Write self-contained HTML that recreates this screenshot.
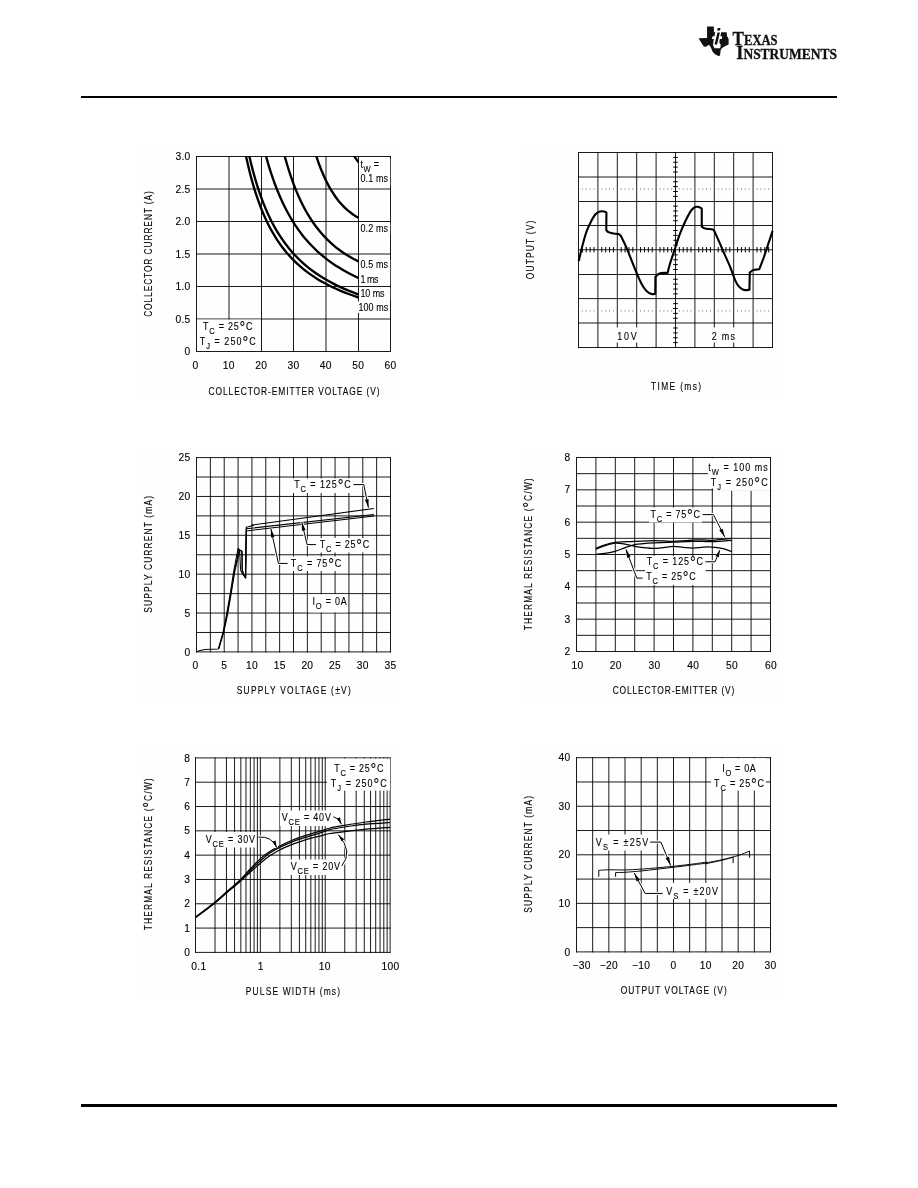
<!DOCTYPE html>
<html lang="en">
<head>
<meta charset="utf-8">
<title>Typical Performance Characteristics</title>
<style>
html,body{margin:0;padding:0;background:#fff}
body{width:918px;height:1188px;position:relative;overflow:hidden;font-family:"Liberation Sans",sans-serif;color:#000}
header,main,footer,figure{margin:0;padding:0}
.rule{position:absolute;left:81px;width:756px;background:#000}
.rule.top{top:96px;height:2px}
.rule.bottom{top:1104px;height:3px}
.chart{position:absolute;display:block;font-family:"Liberation Sans",sans-serif;font-size:11.2px;fill:#000}
.chart text{stroke:#000;stroke-width:.12px}
.chart .grid{fill:none;stroke:#000;stroke-width:.9}
.logo{position:absolute;left:694px;top:20px}
</style>
</head>
<body>
<header>
<svg class="logo" role="img" aria-label="Texas Instruments" width="150" height="46" viewBox="694 20 150 46">
<g transform="translate(694 22) scale(0.04357)">
<path d="M300 105H455L458 235H750L757 320L795 390V515L700 560L640 600L612 640L598 770L560 778L490 745L430 690L390 590L345 520L260 572L215 550L105 372L300 370Z" fill="#111"/>
<path d="M545 140H610L595 195H530Z" fill="#111"/>
<path d="M490 232H625L605 325H648L638 390H592L580 470L615 520L600 600H470L435 530L455 390H412L425 325H470Z" fill="#fff"/>
<path d="M540 240H595L530 515H470Z" fill="#111"/>
</g>
<g font-family="'Liberation Serif',serif" font-weight="bold" fill="#111" stroke="#111" stroke-width="0.3">
<text x="732.6" y="44.9" font-size="18.5" textLength="45" lengthAdjust="spacingAndGlyphs">T<tspan font-size="13.6">EXAS</tspan></text>
<text x="736.3" y="58.8" font-size="18.5" textLength="100.6" lengthAdjust="spacingAndGlyphs">I<tspan font-size="13.6">NSTRUMENTS</tspan></text>
</g>
</svg>
<div class="rule top"></div>
</header>
<main>
<figure>
<svg class="chart c1" role="img" aria-label="Safe operating area: collector current versus collector-emitter voltage" width="258" height="249" viewBox="142 151 258 249" style="left:142px;top:151px">
<rect x="142" y="151.4" width="258" height="248.6" fill="#fefefe"/>
<path class="grid" d="M196.5 156V352M229 156V352M261.5 156V352M293.5 156V352M326 156V352M358.5 156V352M390.5 156V352M196 156.5H391M196 189H391M196 221.5H391M196 254H391M196 286.5H391M196 319H391M196 351.5H391"/>
<clipPath id="clip1"><rect x="196.5" y="156" width="163" height="196"/></clipPath>
<g class="curves" clip-path="url(#clip1)">
<path d="M239.05 116.87C239.47 119.54 240.72 127.73 241.59 132.86C242.47 137.99 243.37 142.9 244.29 147.64C245.22 152.38 246.17 156.92 247.15 161.3C248.14 165.68 249.14 169.88 250.19 173.93C251.23 177.99 252.3 181.87 253.4 185.63C254.5 189.38 255.63 192.98 256.8 196.46C257.97 199.93 259.17 203.27 260.41 206.49C261.65 209.71 262.93 212.8 264.24 215.79C265.55 218.78 266.9 221.64 268.29 224.41C269.68 227.19 271.11 229.85 272.59 232.42C274.07 234.99 275.58 237.46 277.14 239.85C278.71 242.24 280.31 244.53 281.97 246.75C283.63 248.97 285.33 251.1 287.09 253.17C288.84 255.23 290.65 257.21 292.51 259.13C294.37 261.05 296.28 262.9 298.25 264.68C300.23 266.47 302.25 268.19 304.34 269.85C306.44 271.51 308.58 273.11 310.8 274.66C313.02 276.21 315.29 277.7 317.64 279.15C319.99 280.59 322.4 281.98 324.89 283.33C327.38 284.67 329.94 285.97 332.58 287.23C335.21 288.48 337.92 289.69 340.72 290.86C343.52 292.04 346.39 293.17 349.35 294.26C352.31 295.36 356.98 296.91 358.5 297.44" fill="none" stroke="#000" stroke-width="2.35" stroke-linejoin="round"/>
<path d="M241.92 117.52C242.35 120.03 243.61 127.72 244.5 132.56C245.38 137.39 246.29 142.04 247.23 146.54C248.16 151.03 249.12 155.35 250.11 159.53C251.1 163.71 252.11 167.73 253.16 171.62C254.2 175.51 255.28 179.25 256.38 182.87C257.48 186.49 258.62 189.98 259.78 193.35C260.95 196.72 262.15 199.96 263.38 203.1C264.61 206.24 265.88 209.26 267.18 212.19C268.49 215.11 269.82 217.93 271.2 220.66C272.58 223.39 273.99 226.01 275.45 228.56C276.9 231.1 278.4 233.55 279.94 235.93C281.48 238.3 283.05 240.59 284.68 242.8C286.31 245.02 287.97 247.15 289.69 249.22C291.41 251.29 293.18 253.29 294.99 255.22C296.81 257.15 298.67 259.01 300.59 260.82C302.51 262.63 304.48 264.37 306.51 266.06C308.54 267.75 310.62 269.38 312.76 270.96C314.91 272.54 317.11 274.06 319.37 275.54C321.64 277.02 323.96 278.44 326.36 279.82C328.75 281.21 331.21 282.54 333.74 283.84C336.27 285.13 338.87 286.39 341.54 287.6C344.21 288.81 346.96 289.98 349.79 291.12C352.61 292.26 357.05 293.87 358.5 294.42" fill="none" stroke="#000" stroke-width="2.35" stroke-linejoin="round"/>
<path d="M256.98 116.31C257.42 118.51 258.72 125.25 259.63 129.5C260.53 133.75 261.45 137.84 262.39 141.81C263.33 145.78 264.29 149.6 265.27 153.31C266.26 157.02 267.26 160.59 268.28 164.06C269.31 167.53 270.36 170.87 271.43 174.11C272.5 177.35 273.59 180.48 274.7 183.51C275.82 186.55 276.96 189.48 278.13 192.32C279.29 195.16 280.48 197.9 281.7 200.56C282.92 203.22 284.16 205.79 285.43 208.28C286.7 210.78 288 213.18 289.32 215.52C290.65 217.86 292 220.12 293.39 222.31C294.77 224.5 296.18 226.62 297.63 228.68C299.07 230.74 300.54 232.73 302.05 234.66C303.56 236.6 305.1 238.46 306.67 240.28C308.25 242.1 309.85 243.85 311.49 245.56C313.14 247.27 314.81 248.92 316.53 250.52C318.24 252.13 319.99 253.68 321.78 255.19C323.57 256.7 325.4 258.16 327.26 259.58C329.13 261 331.04 262.38 332.99 263.72C334.94 265.06 336.93 266.35 338.96 267.61C341 268.87 343.07 270.1 345.2 271.28C347.32 272.47 349.49 273.62 351.71 274.74C353.92 275.86 357.37 277.46 358.5 278.01" fill="none" stroke="#000" stroke-width="2.35" stroke-linejoin="round"/>
<path d="M272.47 97.15C272.9 99.64 274.15 107.32 275.01 112.11C275.88 116.9 276.75 121.47 277.64 125.88C278.53 130.28 279.44 134.49 280.36 138.55C281.28 142.61 282.21 146.49 283.17 150.23C284.12 153.98 285.08 157.55 286.07 161.01C287.05 164.46 288.05 167.76 289.06 170.95C290.08 174.14 291.11 177.19 292.16 180.13C293.21 183.08 294.28 185.9 295.36 188.62C296.45 191.34 297.55 193.95 298.67 196.47C299.79 198.99 300.93 201.4 302.09 203.73C303.25 206.06 304.43 208.3 305.63 210.46C306.83 212.62 308.04 214.69 309.28 216.69C310.52 218.69 311.78 220.61 313.06 222.46C314.33 224.32 315.63 226.1 316.96 227.82C318.28 229.54 319.62 231.19 320.99 232.78C322.35 234.37 323.74 235.91 325.15 237.38C326.57 238.86 328 240.28 329.46 241.66C330.92 243.03 332.4 244.35 333.91 245.62C335.42 246.89 336.95 248.12 338.51 249.3C340.07 250.48 341.65 251.61 343.26 252.71C344.88 253.8 346.51 254.85 348.18 255.87C349.84 256.89 351.53 257.86 353.25 258.8C354.97 259.74 357.63 261.06 358.5 261.52" fill="none" stroke="#000" stroke-width="2.35" stroke-linejoin="round"/>
<path d="M300.01 83.28C300.35 85.34 301.36 91.7 302.05 95.67C302.74 99.64 303.43 103.45 304.13 107.11C304.82 110.78 305.53 114.29 306.24 117.68C306.95 121.07 307.67 124.32 308.4 127.45C309.13 130.58 309.86 133.58 310.6 136.47C311.34 139.37 312.09 142.14 312.84 144.81C313.6 147.49 314.36 150.05 315.13 152.52C315.9 154.99 316.68 157.36 317.46 159.65C318.25 161.93 319.04 164.12 319.84 166.23C320.64 168.34 321.45 170.36 322.27 172.31C323.09 174.26 323.91 176.12 324.74 177.92C325.57 179.71 326.41 181.43 327.26 183.09C328.11 184.75 328.97 186.33 329.83 187.86C330.7 189.38 331.57 190.84 332.46 192.24C333.34 193.64 334.23 194.98 335.13 196.27C336.03 197.55 336.94 198.78 337.86 199.96C338.77 201.14 339.7 202.26 340.64 203.33C341.57 204.41 342.52 205.43 343.47 206.4C344.42 207.38 345.39 208.31 346.36 209.19C347.33 210.08 348.32 210.91 349.31 211.71C350.3 212.51 351.3 213.26 352.31 213.97C353.32 214.68 354.34 215.35 355.38 215.99C356.41 216.62 357.98 217.47 358.5 217.76" fill="none" stroke="#000" stroke-width="2.35" stroke-linejoin="round"/>
<path d="M332.72 117.85C332.89 118.21 333.41 119.28 333.75 119.99C334.1 120.7 334.44 121.4 334.79 122.11C335.14 122.81 335.49 123.51 335.84 124.2C336.19 124.9 336.54 125.59 336.89 126.28C337.24 126.97 337.6 127.66 337.95 128.34C338.31 129.02 338.66 129.7 339.02 130.38C339.38 131.06 339.74 131.73 340.1 132.4C340.46 133.07 340.82 133.74 341.19 134.41C341.55 135.07 341.91 135.73 342.28 136.39C342.65 137.05 343.01 137.71 343.38 138.36C343.75 139.01 344.12 139.66 344.49 140.31C344.87 140.95 345.24 141.6 345.61 142.24C345.99 142.88 346.36 143.52 346.74 144.15C347.12 144.78 347.5 145.42 347.88 146.05C348.26 146.67 348.64 147.3 349.02 147.92C349.41 148.55 349.79 149.17 350.18 149.79C350.56 150.4 350.95 151.02 351.34 151.63C351.73 152.24 352.12 152.85 352.51 153.46C352.9 154.06 353.3 154.67 353.69 155.27C354.08 155.87 354.48 156.47 354.88 157.06C355.28 157.66 355.68 158.25 356.08 158.84C356.48 159.43 356.88 160.02 357.28 160.6C357.69 161.18 358.3 162.05 358.5 162.35" fill="none" stroke="#000" stroke-width="2.35" stroke-linejoin="round"/>
</g>
<rect x="197" y="319.6" width="64" height="31.4" fill="#fff"/>
<text transform="translate(190.6 355.1) scale(0.95 1)" letter-spacing="0.3" text-anchor="end" font-size="10.8">0</text>
<text transform="translate(190.6 322.6) scale(0.95 1)" letter-spacing="0.3" text-anchor="end" font-size="10.8">0.5</text>
<text transform="translate(190.6 290.1) scale(0.95 1)" letter-spacing="0.3" text-anchor="end" font-size="10.8">1.0</text>
<text transform="translate(190.6 257.6) scale(0.95 1)" letter-spacing="0.3" text-anchor="end" font-size="10.8">1.5</text>
<text transform="translate(190.6 225.1) scale(0.95 1)" letter-spacing="0.3" text-anchor="end" font-size="10.8">2.0</text>
<text transform="translate(190.6 192.6) scale(0.95 1)" letter-spacing="0.3" text-anchor="end" font-size="10.8">2.5</text>
<text transform="translate(190.6 160.1) scale(0.95 1)" letter-spacing="0.3" text-anchor="end" font-size="10.8">3.0</text>
<text transform="translate(195.5 369) scale(0.95 1)" letter-spacing="0.3" text-anchor="middle" font-size="10.8">0</text>
<text transform="translate(228.83 369) scale(0.95 1)" letter-spacing="0.3" text-anchor="middle" font-size="10.8">10</text>
<text transform="translate(261.17 369) scale(0.95 1)" letter-spacing="0.3" text-anchor="middle" font-size="10.8">20</text>
<text transform="translate(293.5 369) scale(0.95 1)" letter-spacing="0.3" text-anchor="middle" font-size="10.8">30</text>
<text transform="translate(325.83 369) scale(0.95 1)" letter-spacing="0.3" text-anchor="middle" font-size="10.8">40</text>
<text transform="translate(358.17 369) scale(0.95 1)" letter-spacing="0.3" text-anchor="middle" font-size="10.8">50</text>
<text transform="translate(390.5 369) scale(0.95 1)" letter-spacing="0.3" text-anchor="middle" font-size="10.8">60</text>
<text transform="translate(294 394.6) scale(0.75 1)" x="-114" textLength="228" lengthAdjust="spacing">COLLECTOR-EMITTER VOLTAGE (V)</text>
<text transform="translate(152.4 254) rotate(-90) scale(0.75 1)" x="-83.8" textLength="167.6" lengthAdjust="spacing">COLLECTOR CURRENT (A)</text>
<text transform="translate(203 329.8) scale(0.8 1)" textLength="61.88" lengthAdjust="spacing">T<tspan dy="4" font-size="9.4">C</tspan><tspan dy="-4"> = 25</tspan><tspan dy="3.9" font-size="18">°</tspan><tspan dy="-3.9">C</tspan></text>
<text transform="translate(199.7 344.8) scale(0.8 1)" textLength="70" lengthAdjust="spacing">T<tspan dy="4" font-size="9.4">J</tspan><tspan dy="-4"> = 250</tspan><tspan dy="3.9" font-size="18">°</tspan><tspan dy="-3.9">C</tspan></text>
<rect x="359.2" y="159" width="31" height="26" fill="#fff"/>
<rect x="359.2" y="223" width="31" height="11" fill="#fff"/>
<rect x="359.2" y="260" width="31" height="25" fill="#fff"/>
<rect x="359.2" y="288" width="31" height="12" fill="#fff"/>
<rect x="357.6" y="301.4" width="32.4" height="11.6" fill="#fff"/>
<text transform="translate(360.5 168.4) scale(0.8 1)" textLength="23.12" lengthAdjust="spacing">t<tspan dy="4" font-size="9.4">W</tspan><tspan dy="-4"> =</tspan></text>
<text transform="translate(360.5 182.4) scale(0.8 1)" textLength="34.38" lengthAdjust="spacing">0.1 ms</text>
<text transform="translate(360.5 231.8) scale(0.8 1)" textLength="34.38" lengthAdjust="spacing">0.2 ms</text>
<text transform="translate(360.5 268.4) scale(0.8 1)" textLength="34.38" lengthAdjust="spacing">0.5 ms</text>
<text transform="translate(360.5 283.4) scale(0.8 1)" textLength="22.5" lengthAdjust="spacing">1 ms</text>
<text transform="translate(360.5 296.8) scale(0.8 1)" textLength="30" lengthAdjust="spacing">10 ms</text>
<text transform="translate(358.6 310.8) scale(0.8 1)" textLength="36.88" lengthAdjust="spacing">100 ms</text>
</svg>
</figure>
<figure>
<svg class="chart c2" role="img" aria-label="Output waveform, 10V and 2 ms per division" width="256" height="249" viewBox="524 151 256 249" style="left:524px;top:151px">
<rect x="524" y="151.4" width="256" height="248.6" fill="#fefefe"/>
<path class="grid" d="M578.5 152V348M597.9 152V348M617.3 152V348M636.7 152V348M656.1 152V348M675.5 152V348M694.9 152V348M714.3 152V348M733.7 152V348M753.1 152V348M772.5 152V348M578 152.5H773M578 177H773M578 201.5H773M578 225.5H773M578 249.75H773M578 274.5H773M578 298.6H773M578 323H773M578 347.5H773"/>
<path d="M581.88 189.06h1M585.76 189.06h1M589.64 189.06h1M593.52 189.06h1M601.28 189.06h1M605.16 189.06h1M609.04 189.06h1M612.92 189.06h1M620.68 189.06h1M624.56 189.06h1M628.44 189.06h1M632.32 189.06h1M640.08 189.06h1M643.96 189.06h1M647.84 189.06h1M651.72 189.06h1M659.48 189.06h1M663.36 189.06h1M667.24 189.06h1M671.12 189.06h1M678.88 189.06h1M682.76 189.06h1M686.64 189.06h1M690.52 189.06h1M698.28 189.06h1M702.16 189.06h1M706.04 189.06h1M709.92 189.06h1M717.68 189.06h1M721.56 189.06h1M725.44 189.06h1M729.32 189.06h1M737.08 189.06h1M740.96 189.06h1M744.84 189.06h1M748.72 189.06h1M756.48 189.06h1M760.36 189.06h1M764.24 189.06h1M768.12 189.06h1M581.88 310.94h1M585.76 310.94h1M589.64 310.94h1M593.52 310.94h1M601.28 310.94h1M605.16 310.94h1M609.04 310.94h1M612.92 310.94h1M620.68 310.94h1M624.56 310.94h1M628.44 310.94h1M632.32 310.94h1M640.08 310.94h1M643.96 310.94h1M647.84 310.94h1M651.72 310.94h1M659.48 310.94h1M663.36 310.94h1M667.24 310.94h1M671.12 310.94h1M678.88 310.94h1M682.76 310.94h1M686.64 310.94h1M690.52 310.94h1M698.28 310.94h1M702.16 310.94h1M706.04 310.94h1M709.92 310.94h1M717.68 310.94h1M721.56 310.94h1M725.44 310.94h1M729.32 310.94h1M737.08 310.94h1M740.96 310.94h1M744.84 310.94h1M748.72 310.94h1M756.48 310.94h1M760.36 310.94h1M764.24 310.94h1M768.12 310.94h1" stroke="#666" stroke-width="1" fill="none"/>
<path d="M582.38 247.05v5.4M586.26 247.05v5.4M590.14 247.05v5.4M594.02 247.05v5.4M601.78 247.05v5.4M605.66 247.05v5.4M609.54 247.05v5.4M613.42 247.05v5.4M621.18 247.05v5.4M625.06 247.05v5.4M628.94 247.05v5.4M632.82 247.05v5.4M640.58 247.05v5.4M644.46 247.05v5.4M648.34 247.05v5.4M652.22 247.05v5.4M659.98 247.05v5.4M663.86 247.05v5.4M667.74 247.05v5.4M671.62 247.05v5.4M679.38 247.05v5.4M683.26 247.05v5.4M687.14 247.05v5.4M691.02 247.05v5.4M698.78 247.05v5.4M702.66 247.05v5.4M706.54 247.05v5.4M710.42 247.05v5.4M718.18 247.05v5.4M722.06 247.05v5.4M725.94 247.05v5.4M729.82 247.05v5.4M737.58 247.05v5.4M741.46 247.05v5.4M745.34 247.05v5.4M749.22 247.05v5.4M756.98 247.05v5.4M760.86 247.05v5.4M764.74 247.05v5.4M768.62 247.05v5.4M673.2 157.38h4.6M673.2 162.25h4.6M673.2 167.12h4.6M673.2 172h4.6M673.2 181.75h4.6M673.2 186.62h4.6M673.2 191.5h4.6M673.2 196.38h4.6M673.2 206.12h4.6M673.2 211h4.6M673.2 215.88h4.6M673.2 220.75h4.6M673.2 230.5h4.6M673.2 235.38h4.6M673.2 240.25h4.6M673.2 245.12h4.6M673.2 254.88h4.6M673.2 259.75h4.6M673.2 264.62h4.6M673.2 269.5h4.6M673.2 279.25h4.6M673.2 284.12h4.6M673.2 289h4.6M673.2 293.88h4.6M673.2 303.62h4.6M673.2 308.5h4.6M673.2 313.38h4.6M673.2 318.25h4.6M673.2 328h4.6M673.2 332.88h4.6M673.2 337.75h4.6M673.2 342.62h4.6" stroke="#000" stroke-width="1" fill="none"/>
<path d="M578.77 260.93C579.41 258.29 581.27 250.1 582.6 245.1C583.93 240.1 585.24 235.1 586.77 230.93C588.29 226.77 590.38 222.79 591.77 220.1C593.16 217.41 593.99 216.1 595.1 214.77C596.21 213.43 597.32 212.68 598.43 212.1C599.54 211.52 600.66 211.32 601.77 211.27C602.88 211.21 604.32 211.52 605.1 211.77C605.88 212.02 606.21 212.6 606.43 212.77L606.27 230.1C606.63 230.43 607.24 231.54 608.43 232.1C609.63 232.66 611.77 233.1 613.43 233.43C615.1 233.77 617.18 233.68 618.43 234.1C619.68 234.52 620.52 235.63 620.93 235.93L620.93 235.93C621.91 238.02 624.13 242.18 626.77 248.43C629.41 254.68 634.27 267.46 636.77 273.43C639.27 279.41 640.24 281.43 641.77 284.27C643.29 287.1 644.68 288.96 645.93 290.43C647.18 291.91 648.16 292.49 649.27 293.1C650.38 293.71 651.6 293.99 652.6 294.1C653.6 294.21 654.82 293.82 655.27 293.77L655.43 276.77C655.79 276.43 656.68 275.38 657.6 274.77C658.52 274.16 659.35 273.41 660.93 273.1C662.52 272.79 666.07 272.96 667.1 272.93L667.6 272.93C668.02 271.35 668.77 267.79 670.1 263.43C671.43 259.07 673.93 251.77 675.6 246.77C677.27 241.77 678.52 237.6 680.1 233.43C681.68 229.27 683.43 225.32 685.1 221.77C686.77 218.21 688.71 214.38 690.1 212.1C691.49 209.82 692.32 208.99 693.43 208.1C694.54 207.21 695.66 206.88 696.77 206.77C697.88 206.66 699.27 207.1 700.1 207.43C700.93 207.77 701.49 208.54 701.77 208.77L701.77 226.77C702.32 227.04 703.29 227.99 705.1 228.43C706.91 228.88 711.07 229.02 712.6 229.43C714.13 229.85 713.99 230.68 714.27 230.93L714.27 230.93C714.96 232.46 716.91 236.63 718.43 240.1C719.96 243.57 721.49 247.32 723.43 251.77C725.38 256.21 728.16 262.04 730.1 266.77C732.04 271.49 733.71 276.91 735.1 280.1C736.49 283.29 737.32 284.46 738.43 285.93C739.54 287.41 740.66 288.24 741.77 288.93C742.88 289.63 743.82 289.96 745.1 290.1C746.38 290.24 748.71 289.82 749.43 289.77L749.77 272.6C750.24 272.24 751.57 270.93 752.6 270.43C753.63 269.93 754.82 269.82 755.93 269.6C757.04 269.38 758.71 269.18 759.27 269.1L759.27 269.1C759.96 267.32 761.91 262.71 763.43 258.43C764.96 254.16 766.91 248.02 768.43 243.43C769.96 238.85 771.91 233.02 772.6 230.93" fill="none" stroke="#000" stroke-width="2.1" stroke-linejoin="round"/>
<rect x="616" y="327.5" width="22" height="15" fill="#fff"/>
<rect x="710.5" y="327.5" width="26" height="15" fill="#fff"/>
<text transform="translate(617.3 340) scale(0.8 1)" textLength="24.25" lengthAdjust="spacing">10V</text>
<text transform="translate(711.7 340) scale(0.8 1)" textLength="29.12" lengthAdjust="spacing">2 ms</text>
<text transform="translate(676 390) scale(0.75 1)" x="-33.33" textLength="66.67" lengthAdjust="spacing">TIME (ms)</text>
<text transform="translate(534.3 250) rotate(-90) scale(0.75 1)" x="-39.07" textLength="78.13" lengthAdjust="spacing">OUTPUT (V)</text>
</svg>
</figure>
<figure>
<svg class="chart c3" role="img" aria-label="Supply current versus supply voltage" width="258" height="249" viewBox="142 451 258 249" style="left:142px;top:451px">
<rect x="142" y="451.4" width="258" height="248.6" fill="#fefefe"/>
<path class="grid" d="M196.5 457.1V652.4M210.36 457.1V652.4M224.21 457.1V652.4M238.07 457.1V652.4M251.93 457.1V652.4M265.79 457.1V652.4M279.64 457.1V652.4M293.5 457.1V652.4M307.36 457.1V652.4M321.21 457.1V652.4M335.07 457.1V652.4M348.93 457.1V652.4M362.79 457.1V652.4M376.64 457.1V652.4M390.5 457.1V652.4M196 457.6H391M196 477.03H391M196 496.46H391M196 515.89H391M196 535.32H391M196 554.75H391M196 574.18H391M196 593.61H391M196 613.04H391M196 632.47H391M196 651.9H391"/>
<g class="curves">
<path d="M196.43 651.77L200.1 650.6L205.1 649.6L218.43 648.93L223.1 632.1L226.43 615.1L230.27 593.27L233.77 570.77L238.1 548.43L239.6 550.1L240.6 570.1L242.6 574.27L245.43 577.6L245.77 550.1L246.27 527.27L253.43 525.43L251.77 525.1L373.93 508.43" fill="none" stroke="#000" stroke-width="1.05" stroke-linejoin="round"/>
<path d="M218.43 648.93L223.43 632.1L226.93 615.1L230.77 593.27L234.43 570.77L239.1 549.6L241.77 550.93L242.1 570.1L243.43 574.27L245.6 577.93L245.93 550.1L246.27 528.77L373.93 514.43" fill="none" stroke="#000" stroke-width="1.05" stroke-linejoin="round"/>
<path d="M218.77 648.93L223.77 632.1L227.43 615.1L231.27 593.27L234.93 570.77L239.77 550.1L242.1 551.43L242.43 570.1L243.77 574.77L245.77 577.93L246.1 550.1L246.43 530.93L374.27 515.93" fill="none" stroke="#000" stroke-width="1.05" stroke-linejoin="round"/>
</g>
<rect x="293" y="478.5" width="59" height="14.5" fill="#fff"/>
<text transform="translate(294.2 488.4) scale(0.8 1)" textLength="70.75" lengthAdjust="spacing">T<tspan dy="4" font-size="9.4">C</tspan><tspan dy="-4"> = 125</tspan><tspan dy="3.9" font-size="18">°</tspan><tspan dy="-3.9">C</tspan></text>
<path d="M353.43 484.6L363.77 484.6L368.43 507.6" fill="none" stroke="#fff" stroke-width="3" stroke-linejoin="miter"/>
<path d="M353.43 484.6L363.77 484.6L368.43 507.6" fill="none" stroke="#000" stroke-width="1" stroke-linejoin="miter"/>
<path d="M368.43 507.6L364.88 499.65L368.61 498.89Z" fill="#000"/>
<rect x="318" y="538" width="52.5" height="14.5" fill="#fff"/>
<text transform="translate(319.7 548.4) scale(0.8 1)" textLength="61.88" lengthAdjust="spacing">T<tspan dy="4" font-size="9.4">C</tspan><tspan dy="-4"> = 25</tspan><tspan dy="3.9" font-size="18">°</tspan><tspan dy="-3.9">C</tspan></text>
<path d="M315.93 544.6L307.1 544.6L301.77 522.1" fill="none" stroke="#fff" stroke-width="3" stroke-linejoin="miter"/>
<path d="M315.93 544.6L307.1 544.6L301.77 522.1" fill="none" stroke="#000" stroke-width="1" stroke-linejoin="miter"/>
<path d="M301.77 522.1L305.58 529.93L301.88 530.81Z" fill="#000"/>
<rect x="289.5" y="556.5" width="53" height="14.5" fill="#fff"/>
<text transform="translate(290.8 566.8) scale(0.8 1)" textLength="63.12" lengthAdjust="spacing">T<tspan dy="4" font-size="9.4">C</tspan><tspan dy="-4"> = 75</tspan><tspan dy="3.9" font-size="18">°</tspan><tspan dy="-3.9">C</tspan></text>
<path d="M287.6 563.43L278.43 563.43L270.93 528.77" fill="none" stroke="#fff" stroke-width="3" stroke-linejoin="miter"/>
<path d="M287.6 563.43L278.43 563.43L270.93 528.77" fill="none" stroke="#000" stroke-width="1" stroke-linejoin="miter"/>
<path d="M270.93 528.77L274.59 536.67L270.87 537.48Z" fill="#000"/>
<rect x="307.9" y="594.2" width="40.1" height="18.2" fill="#fff"/>
<text transform="translate(312.5 605) scale(0.8 1)" textLength="42.75" lengthAdjust="spacing">I<tspan dy="4" font-size="9.4">O</tspan><tspan dy="-4"> = 0A</tspan></text>
<text transform="translate(190.6 655.5) scale(0.95 1)" letter-spacing="0.3" text-anchor="end" font-size="10.8">0</text>
<text transform="translate(190.6 616.64) scale(0.95 1)" letter-spacing="0.3" text-anchor="end" font-size="10.8">5</text>
<text transform="translate(190.6 577.78) scale(0.95 1)" letter-spacing="0.3" text-anchor="end" font-size="10.8">10</text>
<text transform="translate(190.6 538.92) scale(0.95 1)" letter-spacing="0.3" text-anchor="end" font-size="10.8">15</text>
<text transform="translate(190.6 500.06) scale(0.95 1)" letter-spacing="0.3" text-anchor="end" font-size="10.8">20</text>
<text transform="translate(190.6 461.2) scale(0.95 1)" letter-spacing="0.3" text-anchor="end" font-size="10.8">25</text>
<text transform="translate(195.5 669) scale(0.95 1)" letter-spacing="0.3" text-anchor="middle" font-size="10.8">0</text>
<text transform="translate(224.21 669) scale(0.95 1)" letter-spacing="0.3" text-anchor="middle" font-size="10.8">5</text>
<text transform="translate(251.93 669) scale(0.95 1)" letter-spacing="0.3" text-anchor="middle" font-size="10.8">10</text>
<text transform="translate(279.64 669) scale(0.95 1)" letter-spacing="0.3" text-anchor="middle" font-size="10.8">15</text>
<text transform="translate(307.36 669) scale(0.95 1)" letter-spacing="0.3" text-anchor="middle" font-size="10.8">20</text>
<text transform="translate(335.07 669) scale(0.95 1)" letter-spacing="0.3" text-anchor="middle" font-size="10.8">25</text>
<text transform="translate(362.79 669) scale(0.95 1)" letter-spacing="0.3" text-anchor="middle" font-size="10.8">30</text>
<text transform="translate(390.5 669) scale(0.95 1)" letter-spacing="0.3" text-anchor="middle" font-size="10.8">35</text>
<text transform="translate(293.7 694.4) scale(0.75 1)" x="-76" textLength="152" lengthAdjust="spacing">SUPPLY VOLTAGE (±V)</text>
<text transform="translate(152.4 554.4) rotate(-90) scale(0.75 1)" x="-77.8" textLength="155.6" lengthAdjust="spacing">SUPPLY CURRENT (mA)</text>
</svg>
</figure>
<figure>
<svg class="chart c4" role="img" aria-label="Thermal resistance versus collector-emitter voltage" width="258" height="249" viewBox="522 451 258 249" style="left:522px;top:451px">
<rect x="522" y="451.4" width="258" height="248.6" fill="#fefefe"/>
<path class="grid" d="M576.5 457V652M595.9 457V652M615.3 457V652M634.7 457V652M654.1 457V652M673.5 457V652M692.9 457V652M712.3 457V652M731.7 457V652M751.1 457V652M770.5 457V652M576 457.5H771M576 473.67H771M576 489.83H771M576 506H771M576 522.17H771M576 538.33H771M576 554.5H771M576 570.67H771M576 586.83H771M576 603H771M576 619.17H771M576 635.33H771M576 651.5H771"/>
<g class="curves">
<path d="M595.93 548.43C597.46 547.82 601.91 545.77 605.1 544.77C608.29 543.77 611.77 542.93 615.1 542.43C618.43 541.93 621.82 541.96 625.1 541.77C628.38 541.57 629.91 541.46 634.77 541.27C639.63 541.07 649.49 540.66 654.27 540.6C659.04 540.54 660.21 540.82 663.43 540.93C666.66 541.04 669.99 541.32 673.6 541.27C677.21 541.21 681.85 540.79 685.1 540.6C688.35 540.41 690.32 540.24 693.1 540.1C695.88 539.96 698.54 539.74 701.77 539.77C704.99 539.79 709.1 540.32 712.43 540.27C715.77 540.21 718.54 539.77 721.77 539.43C724.99 539.1 730.1 538.46 731.77 538.27" fill="none" stroke="#000" stroke-width="1.25" stroke-linejoin="round"/>
<path d="M595.93 549.27C597.46 548.66 601.91 546.63 605.1 545.6C608.29 544.57 611.77 543.35 615.1 543.1C618.43 542.85 621.82 543.57 625.1 544.1C628.38 544.63 631.71 545.68 634.77 546.27C637.82 546.85 640.18 547.24 643.43 547.6C646.68 547.96 650.93 548.43 654.27 548.43C657.6 548.43 660.21 547.93 663.43 547.6C666.66 547.27 670.27 546.46 673.6 546.43C676.93 546.41 680.18 547.16 683.43 547.43C686.68 547.71 690.04 548.13 693.1 548.1C696.16 548.07 699.21 547.49 701.77 547.27C704.32 547.04 706.21 546.77 708.43 546.77C710.66 546.77 712.88 546.99 715.1 547.27C717.32 547.54 718.99 547.74 721.77 548.43C724.54 549.13 730.1 550.93 731.77 551.43" fill="none" stroke="#000" stroke-width="1.25" stroke-linejoin="round"/>
<path d="M595.93 554.27C597.46 554.13 601.91 553.91 605.1 553.43C608.29 552.96 611.77 552.41 615.1 551.43C618.43 550.46 621.82 548.74 625.1 547.6C628.38 546.46 631.71 545.27 634.77 544.6C637.82 543.93 640.18 543.88 643.43 543.6C646.68 543.32 649.24 543.18 654.27 542.93C659.29 542.68 667.13 542.38 673.6 542.1C680.07 541.82 686.63 541.35 693.1 541.27C699.57 541.18 705.99 541.77 712.43 541.6C718.88 541.43 728.54 540.49 731.77 540.27" fill="none" stroke="#000" stroke-width="1.25" stroke-linejoin="round"/>
</g>
<rect x="708" y="458.2" width="62" height="30.3" fill="#fff"/>
<rect x="713.1" y="488" width="56.9" height="2.8" fill="#fff"/>
<text transform="translate(708.3 470.8) scale(0.8 1)" textLength="74.25" lengthAdjust="spacing">t<tspan dy="4" font-size="9.4">W</tspan><tspan dy="-4"> = 100 ms</tspan></text>
<text transform="translate(710.7 486) scale(0.8 1)" textLength="71.25" lengthAdjust="spacing">T<tspan dy="4" font-size="9.4">J</tspan><tspan dy="-4"> = 250</tspan><tspan dy="3.9" font-size="18">°</tspan><tspan dy="-3.9">C</tspan></text>
<rect x="649" y="507.5" width="53" height="15" fill="#fff"/>
<text transform="translate(650.5 518.4) scale(0.8 1)" textLength="61.88" lengthAdjust="spacing">T<tspan dy="4" font-size="9.4">C</tspan><tspan dy="-4"> = 75</tspan><tspan dy="3.9" font-size="18">°</tspan><tspan dy="-3.9">C</tspan></text>
<path d="M702.6 514.6L713.43 514.6L724.77 537.1" fill="none" stroke="#fff" stroke-width="3" stroke-linejoin="miter"/>
<path d="M702.6 514.6L713.43 514.6L724.77 537.1" fill="none" stroke="#000" stroke-width="1" stroke-linejoin="miter"/>
<path d="M724.77 537.1L719.25 530.36L722.64 528.65Z" fill="#000"/>
<rect x="645" y="556" width="60.5" height="29" fill="#fff"/>
<text transform="translate(646.7 565.4) scale(0.8 1)" textLength="70.37" lengthAdjust="spacing">T<tspan dy="4" font-size="9.4">C</tspan><tspan dy="-4"> = 125</tspan><tspan dy="3.9" font-size="18">°</tspan><tspan dy="-3.9">C</tspan></text>
<path d="M705.43 561.77L715.1 561.77L719.77 550.1" fill="none" stroke="#fff" stroke-width="3" stroke-linejoin="miter"/>
<path d="M705.43 561.77L715.1 561.77L719.77 550.1" fill="none" stroke="#000" stroke-width="1" stroke-linejoin="miter"/>
<path d="M719.77 550.1L718.93 557.3L715.4 555.89Z" fill="#000"/>
<text transform="translate(646.3 580.4) scale(0.8 1)" textLength="61.88" lengthAdjust="spacing">T<tspan dy="4" font-size="9.4">C</tspan><tspan dy="-4"> = 25</tspan><tspan dy="3.9" font-size="18">°</tspan><tspan dy="-3.9">C</tspan></text>
<path d="M642.6 578.1L636.77 578.1L625.93 549.27" fill="none" stroke="#fff" stroke-width="3" stroke-linejoin="miter"/>
<path d="M642.6 578.1L636.77 578.1L625.93 549.27" fill="none" stroke="#000" stroke-width="1" stroke-linejoin="miter"/>
<path d="M625.93 549.27L630.7 556.56L627.14 557.89Z" fill="#000"/>
<text transform="translate(570.6 655.1) scale(0.95 1)" letter-spacing="0.3" text-anchor="end" font-size="10.8">2</text>
<text transform="translate(570.6 622.77) scale(0.95 1)" letter-spacing="0.3" text-anchor="end" font-size="10.8">3</text>
<text transform="translate(570.6 590.43) scale(0.95 1)" letter-spacing="0.3" text-anchor="end" font-size="10.8">4</text>
<text transform="translate(570.6 558.1) scale(0.95 1)" letter-spacing="0.3" text-anchor="end" font-size="10.8">5</text>
<text transform="translate(570.6 525.77) scale(0.95 1)" letter-spacing="0.3" text-anchor="end" font-size="10.8">6</text>
<text transform="translate(570.6 493.43) scale(0.95 1)" letter-spacing="0.3" text-anchor="end" font-size="10.8">7</text>
<text transform="translate(570.6 461.1) scale(0.95 1)" letter-spacing="0.3" text-anchor="end" font-size="10.8">8</text>
<text transform="translate(577.6 669) scale(0.95 1)" letter-spacing="0.3" text-anchor="middle" font-size="10.8">10</text>
<text transform="translate(615.7 669) scale(0.95 1)" letter-spacing="0.3" text-anchor="middle" font-size="10.8">20</text>
<text transform="translate(654.5 669) scale(0.95 1)" letter-spacing="0.3" text-anchor="middle" font-size="10.8">30</text>
<text transform="translate(693.3 669) scale(0.95 1)" letter-spacing="0.3" text-anchor="middle" font-size="10.8">40</text>
<text transform="translate(732.1 669) scale(0.95 1)" letter-spacing="0.3" text-anchor="middle" font-size="10.8">50</text>
<text transform="translate(770.9 669) scale(0.95 1)" letter-spacing="0.3" text-anchor="middle" font-size="10.8">60</text>
<text transform="translate(673.5 694.4) scale(0.75 1)" x="-81.13" textLength="162.27" lengthAdjust="spacing">COLLECTOR-EMITTER (V)</text>
<text transform="translate(532.4 554.3) rotate(-90) scale(0.75 1)" x="-101.13" textLength="202.27" lengthAdjust="spacing">THERMAL RESISTANCE (<tspan dy="3.9" font-size="18">°</tspan><tspan dy="-3.9">C/W)</tspan></text>
</svg>
</figure>
<figure>
<svg class="chart c5" role="img" aria-label="Thermal resistance versus pulse width" width="258" height="249" viewBox="142 751 258 249" style="left:142px;top:751px">
<rect x="142" y="751.4" width="258" height="248.6" fill="#fefefe"/>
<path class="grid" d="M195.5 757.4V952.9M215.03 757.4V952.9M226.45 757.4V952.9M234.55 757.4V952.9M240.84 757.4V952.9M245.98 757.4V952.9M250.32 757.4V952.9M254.08 757.4V952.9M257.4 757.4V952.9M260.37 757.4V952.9M279.89 757.4V952.9M291.32 757.4V952.9M299.42 757.4V952.9M305.71 757.4V952.9M310.84 757.4V952.9M315.19 757.4V952.9M318.95 757.4V952.9M322.27 757.4V952.9M325.23 757.4V952.9M344.76 757.4V952.9M356.18 757.4V952.9M364.29 757.4V952.9M370.57 757.4V952.9M375.71 757.4V952.9M380.05 757.4V952.9M383.81 757.4V952.9M387.13 757.4V952.9M390.1 757.4V952.9M195 757.9H390.6M195 782.21H390.6M195 806.52H390.6M195 830.84H390.6M195 855.15H390.6M195 879.46H390.6M195 903.77H390.6M195 928.09H390.6M195 952.4H390.6"/>
<g class="curves">
<path d="M195.6 917C198.62 914.72 208.52 907.5 213.7 903.3C218.88 899.1 223.22 894.87 226.7 891.8C230.18 888.73 232.15 887.1 234.6 884.9C237.05 882.7 238.77 881.28 241.4 878.6C244.03 875.92 247.23 872.13 250.4 868.8C253.57 865.47 257.23 861.43 260.4 858.6C263.57 855.77 266.2 853.9 269.4 851.8C272.6 849.7 276 847.83 279.6 846C283.2 844.17 287.67 842.23 291 840.8C294.33 839.37 296.25 838.57 299.6 837.4C302.95 836.23 307.53 834.88 311.1 833.8C314.67 832.72 317.85 831.87 321 830.9C324.15 829.93 326.07 828.93 330 828C333.93 827.07 338.6 826.3 344.6 825.3C350.6 824.3 358.43 823.03 366 822C373.57 820.97 386 819.58 390 819.1" fill="none" stroke="#000" stroke-width="1.25" stroke-linejoin="round"/>
<path d="M195.6 917.3C198.62 915.03 208.52 907.87 213.7 903.7C218.88 899.53 223.22 895.33 226.7 892.3C230.18 889.27 232.15 887.65 234.6 885.5C237.05 883.35 238.77 881.95 241.4 879.4C244.03 876.85 247.23 873.3 250.4 870.2C253.57 867.1 257.23 863.62 260.4 860.8C263.57 857.98 266.2 855.53 269.4 853.3C272.6 851.07 276 849.22 279.6 847.4C283.2 845.58 287.67 843.77 291 842.4C294.33 841.03 296.25 840.33 299.6 839.2C302.95 838.07 307.53 836.68 311.1 835.6C314.67 834.52 317.85 833.7 321 832.7C324.15 831.7 326.07 830.55 330 829.6C333.93 828.65 338.6 827.9 344.6 827C350.6 826.1 358.43 824.95 366 824.2C373.57 823.45 386 822.78 390 822.5" fill="none" stroke="#000" stroke-width="1.25" stroke-linejoin="round"/>
<path d="M195.6 917.6C198.62 915.35 208.52 908.23 213.7 904.1C218.88 899.97 223.22 895.78 226.7 892.8C230.18 889.82 232.15 888.27 234.6 886.2C237.05 884.13 238.77 882.77 241.4 880.4C244.03 878.03 247.23 874.85 250.4 872C253.57 869.15 257.23 865.95 260.4 863.3C263.57 860.65 266.2 858.32 269.4 856.1C272.6 853.88 276 851.87 279.6 850C283.2 848.13 287.67 846.27 291 844.9C294.33 843.53 296.25 842.92 299.6 841.8C302.95 840.68 307.53 839.2 311.1 838.2C314.67 837.2 317.85 836.58 321 835.8C324.15 835.02 326.07 834.2 330 833.5C333.93 832.8 338.6 832.32 344.6 831.6C350.6 830.88 358.43 829.92 366 829.2C373.57 828.48 386 827.62 390 827.3" fill="none" stroke="#000" stroke-width="1.25" stroke-linejoin="round"/>
</g>
<rect x="327" y="758.6" width="63" height="32" fill="#fff"/>
<text transform="translate(334.2 771.8) scale(0.8 1)" textLength="61.62" lengthAdjust="spacing">T<tspan dy="4" font-size="9.4">C</tspan><tspan dy="-4"> = 25</tspan><tspan dy="3.9" font-size="18">°</tspan><tspan dy="-3.9">C</tspan></text>
<text transform="translate(330.8 786.8) scale(0.8 1)" textLength="70" lengthAdjust="spacing">T<tspan dy="4" font-size="9.4">J</tspan><tspan dy="-4"> = 250</tspan><tspan dy="3.9" font-size="18">°</tspan><tspan dy="-3.9">C</tspan></text>
<rect x="280" y="810.5" width="52" height="15.5" fill="#fff"/>
<text transform="translate(281.7 821.4) scale(0.8 1)" textLength="61.5" lengthAdjust="spacing">V<tspan dy="4" font-size="9.4">CE</tspan><tspan dy="-4"> = 40V</tspan></text>
<path d="M333.43 816.77Q338.43 817.6 341.43 824.27" fill="none" stroke="#fff" stroke-width="3"/>
<path d="M333.43 816.77Q338.43 817.6 341.43 824.27" fill="none" stroke="#000" stroke-width="1"/>
<path d="M341.43 824.27L336.86 818.7L339.93 817.22Z" fill="#000"/>
<rect x="204" y="832" width="52" height="15.5" fill="#fff"/>
<text transform="translate(205.8 842.6) scale(0.8 1)" textLength="61.5" lengthAdjust="spacing">V<tspan dy="4" font-size="9.4">CE</tspan><tspan dy="-4"> = 30V</tspan></text>
<path d="M258.43 837.1Q271.77 835.93 276.77 847.6" fill="none" stroke="#fff" stroke-width="3"/>
<path d="M258.43 837.1Q271.77 835.93 276.77 847.6" fill="none" stroke="#000" stroke-width="1"/>
<path d="M276.77 847.6L272.45 841.84L275.57 840.5Z" fill="#000"/>
<rect x="289" y="859.5" width="52" height="15.5" fill="#fff"/>
<text transform="translate(290.8 870) scale(0.8 1)" textLength="61.5" lengthAdjust="spacing">V<tspan dy="4" font-size="9.4">CE</tspan><tspan dy="-4"> = 20V</tspan></text>
<path d="M341.77 865.93Q353.43 851.77 338.43 834.77" fill="none" stroke="#fff" stroke-width="3"/>
<path d="M341.77 865.93Q353.43 851.77 338.43 834.77" fill="none" stroke="#000" stroke-width="1"/>
<path d="M338.43 834.77L344.16 839.13L341.52 841.27Z" fill="#000"/>
<text transform="translate(190.2 956) scale(0.95 1)" letter-spacing="0.3" text-anchor="end" font-size="10.8">0</text>
<text transform="translate(190.2 931.69) scale(0.95 1)" letter-spacing="0.3" text-anchor="end" font-size="10.8">1</text>
<text transform="translate(190.2 907.38) scale(0.95 1)" letter-spacing="0.3" text-anchor="end" font-size="10.8">2</text>
<text transform="translate(190.2 883.06) scale(0.95 1)" letter-spacing="0.3" text-anchor="end" font-size="10.8">3</text>
<text transform="translate(190.2 858.75) scale(0.95 1)" letter-spacing="0.3" text-anchor="end" font-size="10.8">4</text>
<text transform="translate(190.2 834.44) scale(0.95 1)" letter-spacing="0.3" text-anchor="end" font-size="10.8">5</text>
<text transform="translate(190.2 810.12) scale(0.95 1)" letter-spacing="0.3" text-anchor="end" font-size="10.8">6</text>
<text transform="translate(190.2 785.81) scale(0.95 1)" letter-spacing="0.3" text-anchor="end" font-size="10.8">7</text>
<text transform="translate(190.2 761.5) scale(0.95 1)" letter-spacing="0.3" text-anchor="end" font-size="10.8">8</text>
<text transform="translate(198.9 970) scale(0.95 1)" letter-spacing="0.3" text-anchor="middle" font-size="10.8">0.1</text>
<text transform="translate(260.8 970) scale(0.95 1)" letter-spacing="0.3" text-anchor="middle" font-size="10.8">1</text>
<text transform="translate(324.8 970) scale(0.95 1)" letter-spacing="0.3" text-anchor="middle" font-size="10.8">10</text>
<text transform="translate(390.4 970) scale(0.95 1)" letter-spacing="0.3" text-anchor="middle" font-size="10.8">100</text>
<text transform="translate(292.9 995) scale(0.75 1)" x="-62.87" textLength="125.73" lengthAdjust="spacing">PULSE WIDTH (ms)</text>
<text transform="translate(151.7 854.3) rotate(-90) scale(0.75 1)" x="-101.13" textLength="202.27" lengthAdjust="spacing">THERMAL RESISTANCE (<tspan dy="3.9" font-size="18">°</tspan><tspan dy="-3.9">C/W)</tspan></text>
</svg>
</figure>
<figure>
<svg class="chart c6" role="img" aria-label="Supply current versus output voltage" width="258" height="249" viewBox="522 751 258 249" style="left:522px;top:751px">
<rect x="522" y="751.4" width="258" height="248.6" fill="#fefefe"/>
<path class="grid" d="M576.5 757.2V952.4M592.67 757.2V952.4M608.83 757.2V952.4M625 757.2V952.4M641.17 757.2V952.4M657.33 757.2V952.4M673.5 757.2V952.4M689.67 757.2V952.4M705.83 757.2V952.4M722 757.2V952.4M738.17 757.2V952.4M754.33 757.2V952.4M770.5 757.2V952.4M576 757.7H771M576 781.98H771M576 806.25H771M576 830.52H771M576 854.8H771M576 879.08H771M576 903.35H771M576 927.62H771M576 951.9H771"/>
<g class="curves">
<path d="M598.77 876.77L598.77 870.43" fill="none" stroke="#000" stroke-width="1" stroke-linejoin="miter"/>
<path d="M598.77 870.43C600.38 870.32 604.04 869.85 608.43 869.77C612.82 869.68 619.54 870.04 625.1 869.93C630.66 869.82 636.35 869.46 641.77 869.1C647.18 868.74 652.27 868.24 657.6 867.77C662.93 867.29 668.41 866.82 673.77 866.27C679.13 865.71 684.41 865.1 689.77 864.43C695.13 863.77 703.27 862.53 705.93 862.27C708.59 862 703.05 863.28 705.73 862.85C708.41 862.42 716.61 860.92 722.02 859.7C727.43 858.48 733.59 856.96 738.18 855.53C742.77 854.1 747.65 851.85 749.54 851.11" fill="none" stroke="#000" stroke-width="0.95" stroke-linejoin="round"/>
<path d="M749.54 851.11L749.54 857.68" fill="none" stroke="#000" stroke-width="1" stroke-linejoin="miter"/>
<path d="M615.6 876.77L615.6 872.6" fill="none" stroke="#000" stroke-width="1" stroke-linejoin="miter"/>
<path d="M615.6 872.6C617.18 872.54 620.74 872.54 625.1 872.27C629.46 871.99 636.35 871.46 641.77 870.93C647.18 870.41 652.27 869.71 657.6 869.1C662.93 868.49 668.41 867.91 673.77 867.27C679.13 866.63 684.41 865.93 689.77 865.27C695.13 864.6 703.27 863.52 705.93 863.27C708.59 863.01 703.05 864.25 705.73 863.74C708.41 863.23 717.45 861.3 722.02 860.2C726.59 859.11 731.28 857.68 733.13 857.17" fill="none" stroke="#000" stroke-width="0.95" stroke-linejoin="round"/>
<path d="M733.13 857.17L733.13 863.11" fill="none" stroke="#000" stroke-width="1" stroke-linejoin="miter"/>
</g>
<rect x="711" y="758.2" width="55" height="32.4" fill="#fff"/>
<text transform="translate(722.3 772.2) scale(0.8 1)" textLength="41.88" lengthAdjust="spacing">I<tspan dy="4" font-size="9.4">O</tspan><tspan dy="-4"> = 0A</tspan></text>
<text transform="translate(714.1 786.7) scale(0.8 1)" textLength="62.37" lengthAdjust="spacing">T<tspan dy="4" font-size="9.4">C</tspan><tspan dy="-4"> = 25</tspan><tspan dy="3.9" font-size="18">°</tspan><tspan dy="-3.9">C</tspan></text>
<rect x="594" y="834.5" width="56" height="16" fill="#fff"/>
<text transform="translate(595.8 845.9) scale(0.8 1)" textLength="65.62" lengthAdjust="spacing">V<tspan dy="4" font-size="9.4">S</tspan><tspan dy="-4"> = ±25V</tspan></text>
<path d="M650.1 842.1L660.93 842.1L670.6 865.43" fill="none" stroke="#fff" stroke-width="3" stroke-linejoin="miter"/>
<path d="M650.1 842.1L660.93 842.1L670.6 865.43" fill="none" stroke="#000" stroke-width="1" stroke-linejoin="miter"/>
<path d="M670.6 865.43L665.59 858.31L669.1 856.85Z" fill="#000"/>
<rect x="664.5" y="883" width="55" height="16" fill="#fff"/>
<text transform="translate(666.2 894.6) scale(0.8 1)" textLength="64.75" lengthAdjust="spacing">V<tspan dy="4" font-size="9.4">S</tspan><tspan dy="-4"> = ±20V</tspan></text>
<path d="M662.6 893.43L645.1 893.43L634.27 873.1" fill="none" stroke="#fff" stroke-width="3" stroke-linejoin="miter"/>
<path d="M662.6 893.43L645.1 893.43L634.27 873.1" fill="none" stroke="#000" stroke-width="1" stroke-linejoin="miter"/>
<path d="M634.27 873.1L639.94 879.71L636.59 881.5Z" fill="#000"/>
<text transform="translate(570.6 955.5) scale(0.95 1)" letter-spacing="0.3" text-anchor="end" font-size="10.8">0</text>
<text transform="translate(570.6 906.95) scale(0.95 1)" letter-spacing="0.3" text-anchor="end" font-size="10.8">10</text>
<text transform="translate(570.6 858.4) scale(0.95 1)" letter-spacing="0.3" text-anchor="end" font-size="10.8">20</text>
<text transform="translate(570.6 809.85) scale(0.95 1)" letter-spacing="0.3" text-anchor="end" font-size="10.8">30</text>
<text transform="translate(570.6 761.3) scale(0.95 1)" letter-spacing="0.3" text-anchor="end" font-size="10.8">40</text>
<text transform="translate(581.5 969) scale(0.95 1)" letter-spacing="0.3" text-anchor="middle" font-size="10.8">−30</text>
<text transform="translate(608.83 969) scale(0.95 1)" letter-spacing="0.3" text-anchor="middle" font-size="10.8">−20</text>
<text transform="translate(641.17 969) scale(0.95 1)" letter-spacing="0.3" text-anchor="middle" font-size="10.8">−10</text>
<text transform="translate(673.5 969) scale(0.95 1)" letter-spacing="0.3" text-anchor="middle" font-size="10.8">0</text>
<text transform="translate(705.83 969) scale(0.95 1)" letter-spacing="0.3" text-anchor="middle" font-size="10.8">10</text>
<text transform="translate(738.17 969) scale(0.95 1)" letter-spacing="0.3" text-anchor="middle" font-size="10.8">20</text>
<text transform="translate(770.5 969) scale(0.95 1)" letter-spacing="0.3" text-anchor="middle" font-size="10.8">30</text>
<text transform="translate(673.7 994.4) scale(0.75 1)" x="-70.67" textLength="141.33" lengthAdjust="spacing">OUTPUT VOLTAGE (V)</text>
<text transform="translate(532.4 854.4) rotate(-90) scale(0.75 1)" x="-77.8" textLength="155.6" lengthAdjust="spacing">SUPPLY CURRENT (mA)</text>
</svg>
</figure>
</main>
<footer><div class="rule bottom"></div></footer>
</body>
</html>
